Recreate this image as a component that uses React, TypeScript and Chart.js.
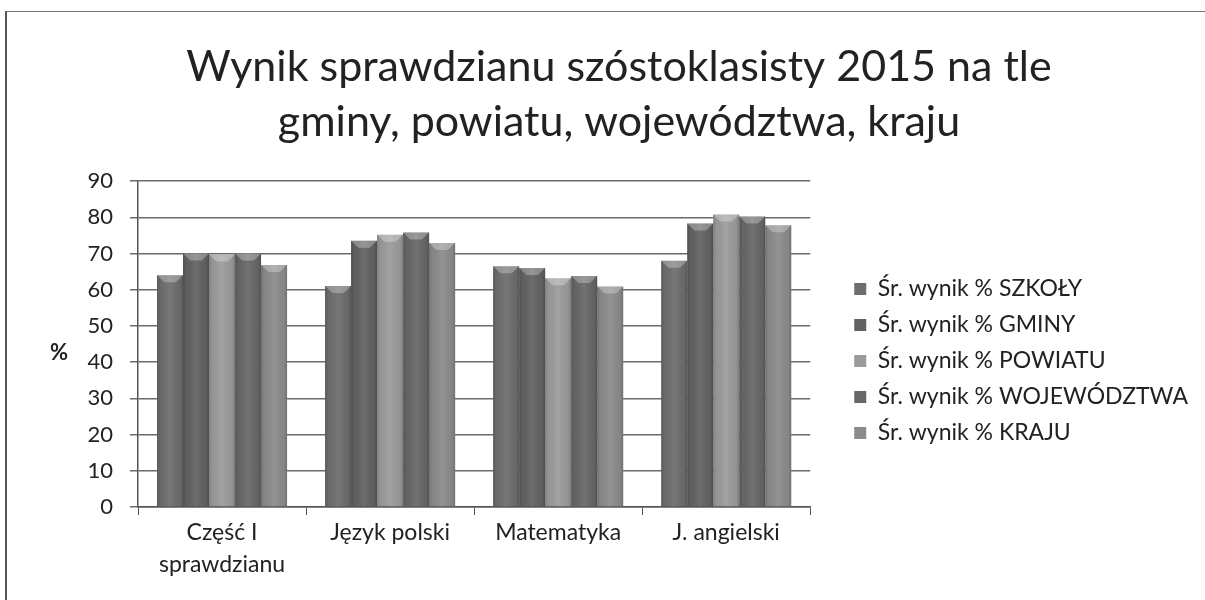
import React, { useEffect, useRef } from "react";
import { Chart, registerables } from "chart.js";

Chart.register(...registerables);

const categories: (string | string[])[] = [["Część I", "sprawdzianu"], "Język polski", "Matematyka", "J. angielski"];
const seriesNames = [
  "Śr. wynik % SZKOŁY",
  "Śr. wynik % GMINY",
  "Śr. wynik % POWIATU",
  "Śr. wynik % WOJEWÓDZTWA",
  "Śr. wynik % KRAJU",
];
const szkoly = [64, 61, 66.5, 68];
const gminy = [70, 73.5, 66, 78.3];
const powiatu = [69.7, 75.2, 63.2, 80.8];
const wojewodztwa = [70, 75.8, 63.8, 80.2];
const kraju = [66.8, 72.9, 60.9, 77.8];
const seriesColors = ["#6d6d6d", "#626262", "#9b9b9b", "#676767", "#8b8b8b"];
const titleLines = ["Wynik sprawdzianu szóstoklasisty 2015 na tle", "gminy, powiatu, województwa, kraju"];
const yTitle = "%";

const FONT = "Lato, 'Noto Sans', sans-serif";

export default function App() {
  const ref = useRef<HTMLCanvasElement>(null);
  useEffect(() => {
    document.body.style.margin = "0";
    const values = [szkoly, gminy, powiatu, wojewodztwa, kraju];
    const pctPlugin = {
      id: "pctLabel",
      afterDraw(chart: any) {
        const { ctx, chartArea } = chart;
        ctx.save();
        ctx.font = `bold 22px ${FONT}`;
        ctx.fillStyle = "#222";
        ctx.textAlign = "center";
        ctx.textBaseline = "middle";
        ctx.fillText(yTitle, chartArea.left - 79, (chartArea.top + chartArea.bottom) / 2 + 9);
        ctx.restore();
      },
    };
    const shadePlugin = {
      id: "barShade",
      afterDatasetsDraw(chart: any) {
        const { ctx } = chart;
        ctx.save();
        chart.data.datasets.forEach((_: any, di: number) => {
          const meta = chart.getDatasetMeta(di);
          meta.data.forEach((bar: any) => {
            const { x, y, base, width } = bar.getProps(["x", "y", "base", "width"], true);
            const l = x - width / 2;
            const g = ctx.createLinearGradient(l, 0, l + width, 0);
            g.addColorStop(0, "rgba(0,0,0,0.18)");
            g.addColorStop(0.12, "rgba(0,0,0,0.04)");
            g.addColorStop(0.5, "rgba(255,255,255,0.08)");
            g.addColorStop(0.88, "rgba(0,0,0,0.04)");
            g.addColorStop(1, "rgba(0,0,0,0.2)");
            ctx.fillStyle = g;
            ctx.fillRect(l, y, width, base - y);
            // bevel highlight on top
            ctx.fillStyle = "rgba(255,255,255,0.28)";
            ctx.beginPath();
            ctx.moveTo(l, y);
            ctx.lineTo(l + width, y);
            ctx.lineTo(l + width * 0.72, y + 7);
            ctx.lineTo(l + width * 0.28, y + 7);
            ctx.closePath();
            ctx.fill();
          });
        });
        ctx.restore();
      },
    };
    const chart = new Chart(ref.current!, {
      type: "bar",
      data: {
        labels: categories,
        datasets: values.map((v, i) => ({
          label: seriesNames[i],
          data: v,
          backgroundColor: seriesColors[i],
          borderWidth: 0,
          categoryPercentage: 0.774,
          barPercentage: 1,
        })),
      },
      options: {
        animation: false,
        responsive: false,
        layout: { padding: { left: 40, right: 7, top: 40, bottom: 13 } },
        plugins: {
          title: {
            display: true,
            text: titleLines,
            color: "#222",
            font: { family: FONT, size: 43, weight: "normal", lineHeight: 1.28 },
            padding: { top: 0, bottom: 31 },
          },
          legend: {
            position: "right",
            fullSize: false,
            maxWidth: 420,
            title: { display: true, text: " ", font: { size: 10, lineHeight: 1.2 }, padding: 11 },
            labels: {
              color: "#222",
              boxWidth: 12,
              boxHeight: 12,
              padding: 13,
              font: { family: FONT, size: 23 },
            },
          },
          tooltip: { enabled: false },
        },
        scales: {
          x: {
            grid: { drawOnChartArea: false, drawTicks: true, tickLength: 8, color: "#555", offset: true },
            border: { display: true, color: "#555", width: 1.5 },
            ticks: { color: "#222", padding: 2, maxRotation: 0, font: { family: FONT, size: 23, lineHeight: 1.39 } },
            afterFit: (s: any) => {
              s.height = 80;
            },
          },
          y: {
            min: 0,
            max: 90,
            ticks: { stepSize: 10, color: "#222", padding: 17, font: { family: FONT, size: 22 } },
            grid: { color: "#6a6a6a", lineWidth: 1.5, tickLength: 8 },
            border: { display: true, color: "#555", width: 1.5 },
            afterFit: (s: any) => {
              s.width = 98;
            },
          },
          gap: {
            position: "right",
            display: true,
            grid: { drawOnChartArea: false, drawTicks: false },
            border: { display: false },
            ticks: { display: false },
            afterFit: (s: any) => {
              s.width = 31;
            },
          },
        },
      },
      plugins: [shadePlugin, pctPlugin],
    });
    return () => chart.destroy();
  }, []);
  return (
    <div style={{ position: "relative", width: 1205, height: 600, overflow: "hidden", background: "#fff" }}>
      <div
        style={{
          position: "absolute",
          left: 5,
          top: 11,
          width: 1300,
          height: 700,
          borderLeft: "2px solid #555",
          borderTop: "1.5px solid #777",
        }}
      />
      <canvas ref={ref} width={1205} height={600} style={{ position: "absolute", left: 0, top: 0 }} />
    </div>
  );
}
